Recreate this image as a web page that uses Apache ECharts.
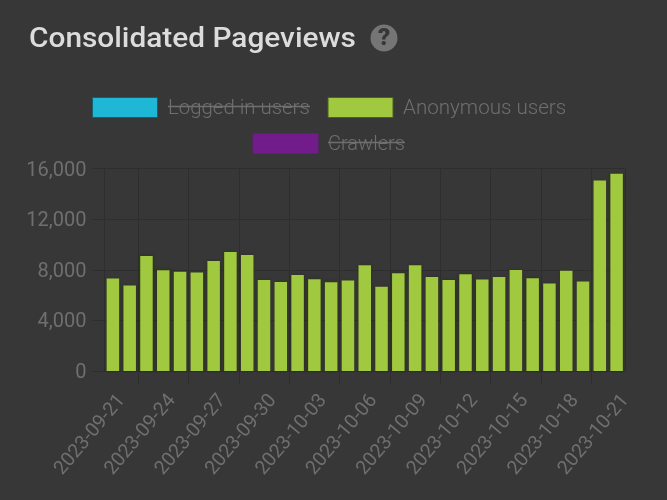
<!DOCTYPE html>
<html>
<head>
<meta charset="utf-8">
<style>html,body{margin:0;padding:0;background:#373737}#chart{width:667px;height:500px}</style>
<script src="https://cdn.jsdelivr.net/npm/echarts@6/dist/echarts.min.js"></script>
</head>
<body>
<div id="chart"></div>
<script>
const chartTitle = 'Consolidated Pageviews';
const dates = [
  '2023-09-21','2023-09-22','2023-09-23','2023-09-24','2023-09-25','2023-09-26','2023-09-27','2023-09-28',
  '2023-09-29','2023-09-30','2023-10-01','2023-10-02','2023-10-03','2023-10-04','2023-10-05','2023-10-06',
  '2023-10-07','2023-10-08','2023-10-09','2023-10-10','2023-10-11','2023-10-12','2023-10-13','2023-10-14',
  '2023-10-15','2023-10-16','2023-10-17','2023-10-18','2023-10-19','2023-10-20','2023-10-21'
];
const anonymousUsers = [
  7300,6750,9090,7960,7850,7775,8700,9400,9170,7200,7040,7590,7250,7015,7150,8350,
  6650,7720,8350,7430,7200,7640,7220,7430,7985,7330,6910,7930,7065,15050,15580
];
const loggedInUsers = [];
const crawlers = [];
const yMax = 16000;
const yStep = 4000;

const COLORS = { cyan:'#1eb8d6', green:'#a0c93f', purple:'#721c8c', muted:'#6f6f6f', grid:'#2e2e2e' };
const FONT = 'Roboto';

// Band boundaries that carry a tick below the plot
const tickSlots = dates.map((_, i) => i).filter((i) => i % 3 === 2);

function swatch(x, y, fill, stroke) {
  return { type:'rect', shape:{x, y, width:65, height:20}, style:{fill, stroke, lineWidth:1} };
}
function label(x, y, text, stretch) {
  return { type:'text', x, y, scaleX:stretch, style:{text, fill:COLORS.muted, font:'300 20px '+FONT, verticalAlign:'middle'} };
}
function strike(x1, x2, y) {
  return { type:'line', shape:{x1, y1:y, x2, y2:y}, style:{stroke:COLORS.muted, lineWidth:1.5} };
}

const chart = echarts.init(document.getElementById('chart'));
chart.setOption({
  backgroundColor:'#373737',
  animation:false,
  textStyle:{fontFamily:FONT},
  grid:{left:104.5, right:42, top:168.5, bottom:129},
  xAxis:[{
    type:'category',
    data:dates,
    axisLine:{show:false},
    axisTick:{show:false},
    splitLine:{show:true, interval:(i)=>i===0||i%3===2, lineStyle:{color:COLORS.grid}},
    axisLabel:{interval:2, rotate:50, color:COLORS.muted, fontSize:19.5, fontFamily:FONT, margin:37, padding:[0,-14,0,0]}
  },{
    type:'value',
    position:'bottom',
    min:0, max:dates.length,
    axisLine:{show:false},
    axisLabel:{show:false},
    splitLine:{show:false},
    axisTick:{show:true, length:13, customValues:tickSlots, lineStyle:{color:COLORS.grid}}
  }],
  yAxis:{
    type:'value',
    min:0, max:yMax, interval:yStep,
    axisLine:{show:false},
    axisTick:{show:true, length:12, lineStyle:{color:COLORS.grid}},
    splitLine:{show:true, lineStyle:{color:COLORS.grid}},
    axisLabel:{color:COLORS.muted, fontSize:20, fontFamily:FONT, margin:18, verticalAlign:'top', padding:[-8,0,0,0],
      formatter:(v)=>v.toLocaleString('en-US')}
  },
  series:[
    {name:'Logged in users', type:'bar', stack:'views', data:loggedInUsers},
    {name:'Anonymous users', type:'bar', stack:'views', data:anonymousUsers, barWidth:12.5,
      itemStyle:{color:COLORS.green, shadowColor:'#26300f', shadowBlur:3}},
    {name:'Crawlers', type:'bar', stack:'views', data:crawlers}
  ],
  graphic:[
    {type:'text', x:29, y:40, scaleX:1.065, style:{text:chartTitle, fill:'#dcdcdc', font:'500 28px '+FONT, verticalAlign:'middle'}},
    {type:'circle', shape:{cx:384, cy:38, r:13.5}, style:{fill:'#757575'}},
    {type:'text', x:384, y:39, style:{text:'?', fill:'#373737', font:'900 24px '+FONT, align:'center', verticalAlign:'middle'}},
    swatch(92.5, 97.5, COLORS.cyan, '#155f70'),
    label(168, 108.5, 'Logged in users', 1.02),
    strike(168, 310, 106.5),
    swatch(328, 97.5, COLORS.green, '#4c5f25'),
    label(403, 108.5, 'Anonymous users', 1.03),
    swatch(253, 133.5, COLORS.purple, '#6a1a82'),
    label(328, 144.5, 'Crawlers', 1.0),
    strike(328, 405, 142.5)
  ]
});
</script>
</body>
</html>
